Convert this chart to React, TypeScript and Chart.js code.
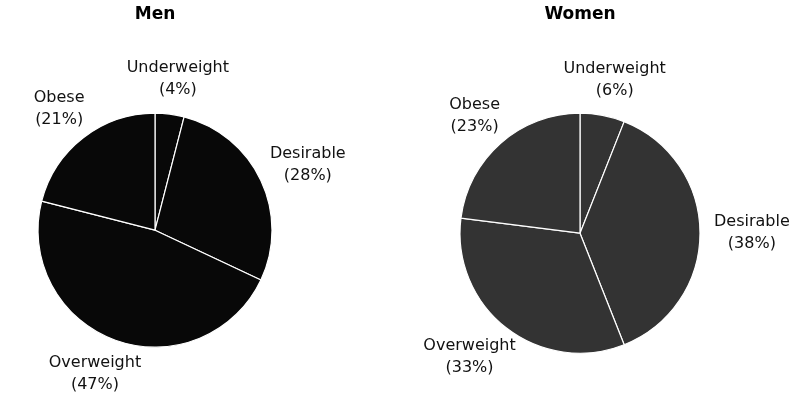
import React, { useEffect, useRef } from "react";
import { Chart, registerables } from "chart.js";

Chart.register(...registerables);

const categories = ["Underweight", "Desirable", "Overweight", "Obese"];
const menValues = [4, 28, 47, 21];
const womenValues = [6, 38, 33, 23];
const menTitle = "Men";
const womenTitle = "Women";

const labelPlugin = {
  id: "outerLabels",
  afterDatasetsDraw(chart: any) {
    const ctx = chart.ctx;
    const meta = chart.getDatasetMeta(0);
    const data = chart.data.datasets[0].data as number[];
    const total = data.reduce((a, b) => a + b, 0);
    ctx.save();
    ctx.font = "16px 'DejaVu Sans'";
    ctx.fillStyle = "#111";
    ctx.textAlign = "center";
    ctx.textBaseline = "middle";
    const lh = 22;
    meta.data.forEach((arc: any, i: number) => {
      const p = arc.getProps(["x", "y", "startAngle", "endAngle", "outerRadius"], true);
      const mid = (p.startAngle + p.endAngle) / 2;
      const dx = Math.cos(mid);
      const dy = Math.sin(mid);
      const gap = 14;
      const ax = p.x + (p.outerRadius + gap) * dx;
      const ay = p.y + (p.outerRadius + gap) * dy;
      const lines = [String(chart.data.labels[i]), "(" + Math.round((data[i] / total) * 100) + "%)"];
      const w = Math.max(...lines.map((l) => ctx.measureText(l).width));
      const h = lines.length * lh;
      const cx = ax + (dx * w) / 2;
      const cy = ay + (dy * h) / 2;
      lines.forEach((l, k) => {
        ctx.fillText(l, cx, cy - h / 2 + lh / 2 + k * lh);
      });
    });
    ctx.restore();
  },
};

function PieChart(props: {
  values: number[];
  title: string;
  color: string;
  radius: number;
  padding: { left: number; right: number; top: number; bottom: number };
  width: number;
  left: number;
}) {
  const ref = useRef<HTMLCanvasElement | null>(null);
  useEffect(() => {
    if (!ref.current) return;
    const chart = new Chart(ref.current, {
      type: "pie",
      data: {
        labels: categories,
        datasets: [
          {
            data: props.values,
            backgroundColor: props.color,
            borderColor: "#ffffff",
            borderWidth: 1.2,
          },
        ],
      },
      options: {
        animation: false,
        responsive: false,
        radius: props.radius,
        layout: { padding: props.padding },
        plugins: {
          legend: { display: false },
          tooltip: { enabled: false },
          title: {
            display: true,
            text: props.title,
            color: "#000",
            font: { family: "'DejaVu Sans'", size: 17, weight: "bold", lineHeight: 1.2 },
            padding: { top: 4, bottom: 88 },
          },
        },
      } as any,
      plugins: [labelPlugin],
    });
    return () => chart.destroy();
  }, []);
  return (
    <canvas
      ref={ref}
      width={props.width}
      height={402}
      style={{ position: "absolute", left: props.left, top: 0, width: props.width, height: 402 }}
    />
  );
}

export default function App() {
  return (
    <div style={{ position: "absolute", left: 0, top: 0, width: 793, height: 402, background: "#fff", overflow: "hidden" }}>
      <PieChart
        values={menValues}
        title={menTitle}
        color="#080808"
        radius={117}
        width={400}
        left={0}
        padding={{ left: 38, right: 128, top: 0, bottom: 54 }}
      />
      <PieChart
        values={womenValues}
        title={womenTitle}
        color="#333333"
        radius={120}
        width={393}
        left={400}
        padding={{ left: 60, right: 93, top: 0, bottom: 48 }}
      />
    </div>
  );
}
